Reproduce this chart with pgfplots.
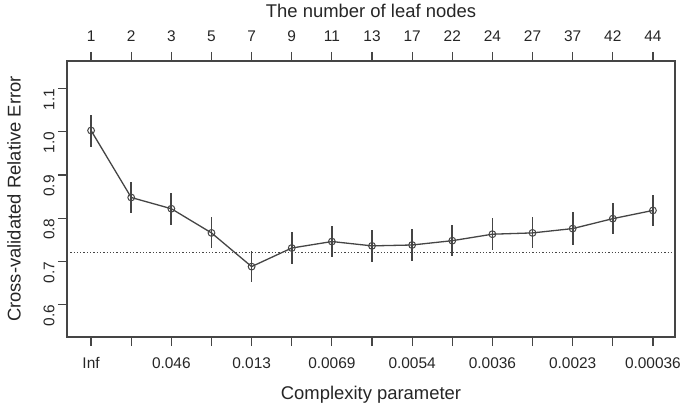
\documentclass[border=0pt]{standalone}
\usepackage{pgfplots}
\pgfplotsset{compat=1.18}
\usepackage{fontspec}
\setmainfont{Liberation Sans}
\definecolor{lc}{HTML}{454545}
\definecolor{tc}{HTML}{262626}

% xerror table: position, relative error, standard error
\pgfplotstableread{
x  y      se
1  1.003  0.037
2  0.848  0.0365
3  0.822  0.0375
4  0.766  0.036
5  0.688  0.035
6  0.731  0.036
7  0.746  0.036
8  0.736  0.0365
9  0.738  0.0365
10 0.748  0.036
11 0.763  0.0365
12 0.766  0.036
13 0.776  0.0375
14 0.799  0.036
15 0.818  0.0365
}\cpdata

\begin{document}
\begin{tikzpicture}
\useasboundingbox (-67bp,-70bp) rectangle (618bp,337bp);
\pgfplotsset{
  common/.style={
    width=608bp, height=276bp, scale only axis,
    xmin=0.4, xmax=15.55, ymin=0.525, ymax=1.164,
    xtick={1,...,15},
    tick align=outside,
    major tick length=9bp,
    every tick/.style={lc, line width=1.2bp},
    axis line style={lc, line width=1.3bp},
    tick label style={font=\fontsize{15.5}{18}\selectfont, text=tc},
    label style={font=\fontsize{18.5}{22}\selectfont, text=tc},
  }
}
\begin{axis}[
  common,
  xtick pos=lower, ytick pos=left,
  xticklabels={Inf,,0.046,,0.013,,0.0069,,0.0054,,0.0036,,0.0023,,0.00036},
  ytick={0.6,0.7,0.8,0.9,1.0,1.1},
  yticklabels={0.6,0.7,0.8,0.9,1.0,1.1},
  yticklabel style={rotate=90, anchor=south, xshift=-11bp},
  xticklabel style={yshift=-8bp},
  xlabel={Complexity parameter},
  ylabel={Cross-validated Relative Error},
  xlabel style={at={(axis description cs:0.5,-0.208)}, anchor=center},
  ylabel style={at={(axis description cs:-0.087,0.5)}, anchor=center},
  clip=false,
]
\addplot[lc, line width=0.8bp, dash pattern=on 1.3bp off 2bp]
  coordinates {(0.4,0.722) (15.55,0.722)};
\addplot[lc, line width=1.3bp, mark=o, mark size=3.4bp,
  mark options={solid, line width=1bp},
  error bars/.cd, y dir=both, y explicit, error mark=none,
  error bar style={line width=1.7bp, lc}]
  table[x=x, y=y, y error=se] {\cpdata};
\end{axis}
\begin{axis}[
  common,
  axis x line*=top, hide y axis,
  xtick pos=upper,
  xticklabels={1,2,3,5,7,9,11,13,17,22,24,27,37,42,44},
  xticklabel style={yshift=7bp},
  xlabel={The number of leaf nodes},
  xlabel style={at={(axis description cs:0.5,1.181)}, anchor=center},
]
\addplot[draw=none] coordinates {(1,0.7)};
\end{axis}
\end{tikzpicture}
\end{document}
